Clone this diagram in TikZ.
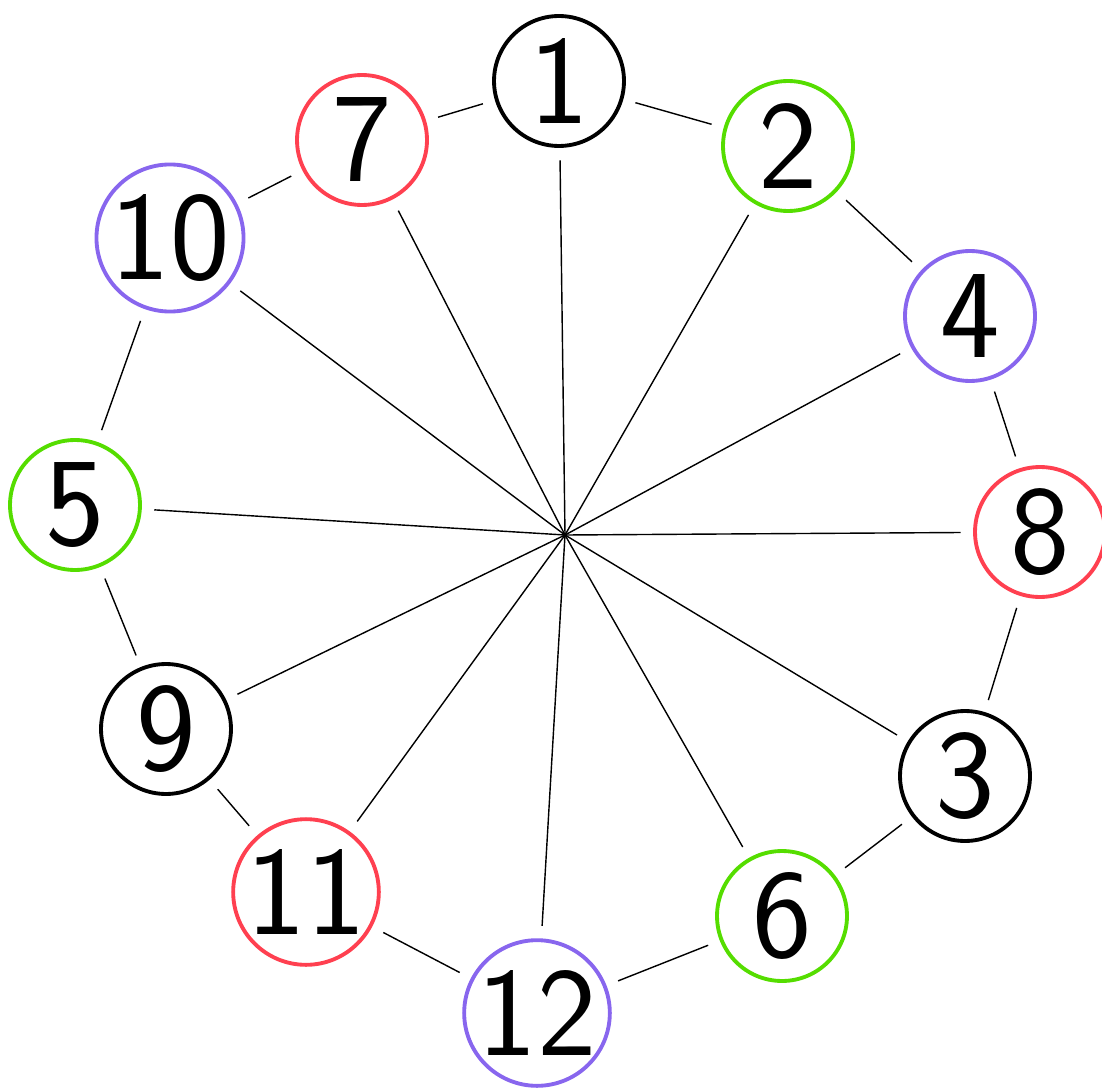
\documentclass[tikz,border=0pt]{standalone}
\definecolor{hgreen}{RGB}{85,221,0}
\definecolor{hpurple}{RGB}{136,102,238}
\definecolor{hred}{RGB}{255,64,80}
\begin{document}
\begin{tikzpicture}[x=0.02cm, y=-0.02cm,
    vert/.style={draw,circle,line width=2.2pt,minimum size=2.6cm,inner sep=0pt,font=\fontsize{72}{72}\selectfont\sffamily},
    edge/.style={line width=0.8pt,shorten <=0.25cm,shorten >=0.25cm}]
        \useasboundingbox (0,0) rectangle (1102,1091);
        % rim vertices
        \node[vert] (n1) at (559,81) {1};
        \node[vert,hgreen] (n2) at (788,146) {\color{black}2};
        \node[vert,hpurple] (n4) at (970,316) {\color{black}4};
        \node[vert,hred] (n8) at (1040,532) {\color{black}8};
        \node[vert] (n3) at (965,776) {3};
        \node[vert,hgreen] (n6) at (782,916) {\color{black}6};
        \node[vert,hpurple] (n12) at (537,1013) {\color{black}12};
        \node[vert,hred] (n11) at (306,892) {\color{black}11};
        \node[vert] (n9) at (166,729) {9};
        \node[vert,hgreen] (n5) at (75,505) {\color{black}5};
        \node[vert,hpurple] (n10) at (170,238) {\color{black}10};
        \node[vert,hred] (n7) at (362,140) {\color{black}7};
        % hub
        \coordinate (c) at (565,535);
        \foreach \v in {1,...,12}
            \draw[edge,shorten <=0pt] (c)--(n\v);
        % rim
        \draw[edge] (n1)--(n2);
        \draw[edge] (n2)--(n4);
        \draw[edge] (n4)--(n8);
        \draw[edge] (n8)--(n3);
        \draw[edge] (n3)--(n6);
        \draw[edge] (n6)--(n12);
        \draw[edge] (n12)--(n11);
        \draw[edge] (n11)--(n9);
        \draw[edge] (n9)--(n5);
        \draw[edge] (n5)--(n10);
        \draw[edge] (n10)--(n7);
        \draw[edge] (n7)--(n1);
    \end{tikzpicture}
\end{document}
